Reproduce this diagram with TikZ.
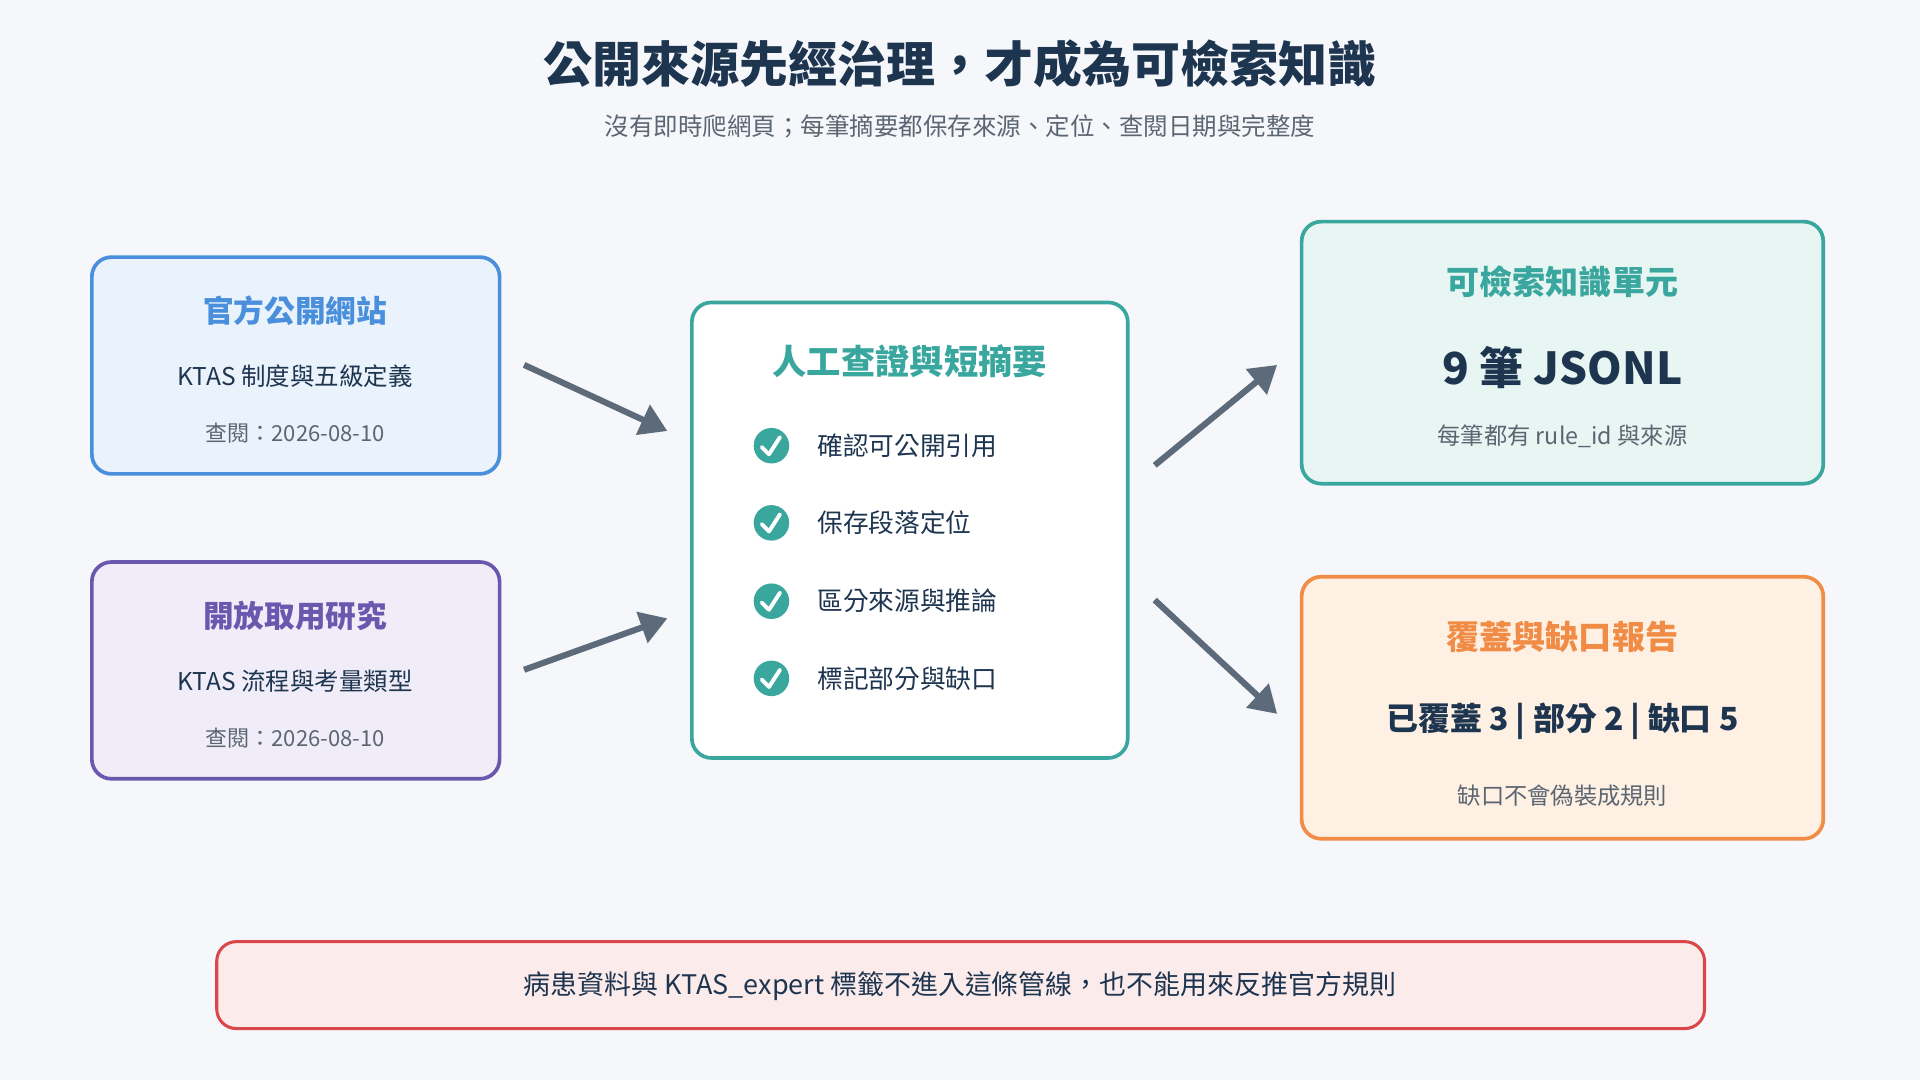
\documentclass[tikz,border=0pt]{standalone}
\usepackage{fontspec}
\setmainfont{Noto Sans CJK TC}
\usetikzlibrary{arrows.meta}
\definecolor{bgc}{HTML}{F5F7FB}
\definecolor{navy}{HTML}{1E3550}
\definecolor{greytxt}{HTML}{5C6673}
\definecolor{bluec}{HTML}{4A8FDB}
\definecolor{bluefill}{HTML}{EAF2FB}
\definecolor{purplec}{HTML}{6A58AE}
\definecolor{purplefill}{HTML}{F0EDF8}
\definecolor{tealc}{HTML}{3AA79F}
\definecolor{tealfill}{HTML}{E8F6F3}
\definecolor{orangec}{HTML}{F08C45}
\definecolor{orangefill}{HTML}{FEF0E3}
\definecolor{redc}{HTML}{D9474B}
\definecolor{redfill}{HTML}{FCEBEB}
\definecolor{arrowc}{HTML}{5D6A7A}
\tikzset{
  box/.style={draw, line width=3pt, rounded corners=16pt},
  head/.style={font=\bfseries\fontsize{25}{29}\selectfont},
  body/.style={text=navy, font=\fontsize{20}{24}\selectfont},
  note/.style={text=greytxt, font=\fontsize{18}{22}\selectfont},
  flow/.style={draw=arrowc, line width=5pt, -{Triangle[length=22pt,width=26pt]}},
  chk/.style={circle, fill=tealc, minimum size=29pt, inner sep=0pt},
  item/.style={anchor=west, text=navy, font=\fontsize{21}{25}\selectfont},
}
\begin{document}
\begin{tikzpicture}[x=1pt,y=-1pt]
\fill[bgc] (0,0) rectangle (1568,882);
\useasboundingbox (0,0) rectangle (1568,882);
% title
\node[text=navy, font=\bfseries\fontsize{40}{44}\selectfont] (title) at (784,52) {公開來源先經治理，才成為可檢索知識};
\node[note, font=\fontsize{20}{24}\selectfont] (subtitle) at (784,103) {沒有即時爬網頁；每筆摘要都保存來源、定位、查閱日期與完整度};
% sources
\draw[box, draw=bluec, fill=bluefill] (75,210) rectangle (408,387);
\node[head, text=bluec] (offT) at (241,254) {官方公開網站};
\node[body] (offB) at (241,307) {KTAS 制度與五級定義};
\node[note] (offD) at (241,354) {查閱：2026-08-10};
\draw[box, draw=purplec, fill=purplefill] (75,459) rectangle (408,636);
\node[head, text=purplec] (resT) at (241,503) {開放取用研究};
\node[body] (resB) at (241,556) {KTAS 流程與考量類型};
\node[note] (resD) at (241,603) {查閱：2026-08-10};
% review
\draw[box, draw=tealc, fill=white] (565,247) rectangle (921,619);
\node[head, text=tealc, font=\bfseries\fontsize{28}{32}\selectfont] (revT) at (743,295) {人工查證與短摘要};
\foreach \y/\t [count=\i] in {364/確認可公開引用, 427/保存段落定位, 491/區分來源與推論, 554/標記部分與缺口}{
  \node[chk] (c\i) at (630,\y) {};
  \draw[white, line width=3.2pt, line cap=round, line join=round]
    (622,\y+1) -- (628,\y+7) -- (637,\y-7);
  \node[item] (t\i) at (664,\y) {\t};
}
% outputs
\draw[box, draw=tealc, fill=tealfill] (1063,181) rectangle (1489,395);
\node[head, text=tealc, font=\bfseries\fontsize{27}{31}\selectfont] (kuT) at (1276,230) {可檢索知識單元};
\node[text=navy, font=\bfseries\fontsize{36}{40}\selectfont] (kuB) at (1276,300) {9 筆 JSONL};
\node[note, font=\fontsize{19}{23}\selectfont] (kuD) at (1276,356) {每筆都有 rule\_id 與來源};
\draw[box, draw=orangec, fill=orangefill] (1063,471) rectangle (1489,685);
\node[head, text=orangec, font=\bfseries\fontsize{27}{31}\selectfont] (gapT) at (1276,520) {覆蓋與缺口報告};
\node[text=navy, font=\bfseries\fontsize{26}{30}\selectfont] (gapB) at (1276,589) {已覆蓋 3 | 部分 2 | 缺口 5};
\node[note, font=\fontsize{19}{23}\selectfont] (gapD) at (1276,650) {缺口不會偽裝成規則};
% footer
\draw[box, line width=2.5pt, draw=redc, fill=redfill] (177,769) rectangle (1392,840);
\node[text=navy, font=\fontsize{22}{26}\selectfont] (foot) at (784,805) {病患資料與 KTAS\_expert 標籤不進入這條管線，也不能用來反推官方規則};
% arrows
\coordinate (a1s) at (428,298); \coordinate (a1e) at (545,352);
\coordinate (a2s) at (428,547); \coordinate (a2e) at (545,505);
\coordinate (a3s) at (943,380); \coordinate (a3e) at (1043,298);
\coordinate (a4s) at (943,490); \coordinate (a4e) at (1043,583);
\draw[flow] (a1s) -- (a1e);
\draw[flow] (a2s) -- (a2e);
\draw[flow] (a3s) -- (a3e);
\draw[flow] (a4s) -- (a4e);
\end{tikzpicture}
\end{document}
